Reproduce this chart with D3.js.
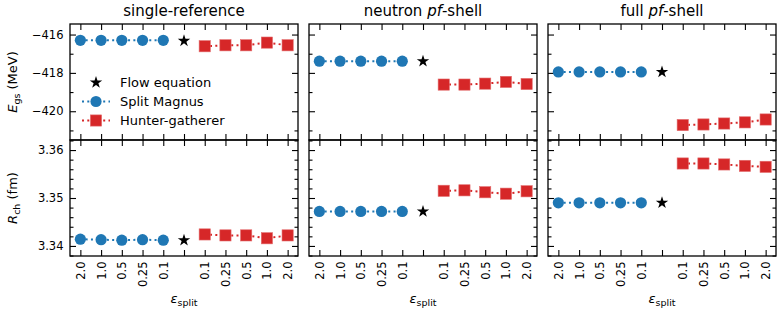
<!DOCTYPE html>
<html>
<head>
<meta charset="utf-8">
<script src="https://cdn.jsdelivr.net/npm/d3@7"></script>
<style>
  body { margin: 0; background: #fff; }
  text { font-family: 'DejaVu Sans', sans-serif; fill: #000; }
</style>
</head>
<body>
<svg id="chart" width="780" height="312"></svg>
<script>
// x categories: split Magnus eps (descending), flow equation slot, hunter-gatherer eps (ascending)
const xLabels = ['2.0', '1.0', '0.5', '0.25', '0.1', '', '0.1', '0.25', '0.5', '1.0', '2.0'];
const magnusIdx = [0, 1, 2, 3, 4];
const flowIdx = 5;
const hunterIdx = [6, 7, 8, 9, 10];
const panelTitles = ['single-reference', 'neutron |pf|-shell', 'full |pf|-shell'];

// ground-state energy (MeV)
const energyMagnus = [
  [-416.30, -416.30, -416.30, -416.30, -416.30],
  [-417.39, -417.39, -417.39, -417.39, -417.39],
  [-417.95, -417.95, -417.95, -417.95, -417.95],
];
const energyFlow = [-416.33, -417.39, -417.95];
const energyHunter = [
  [-416.61, -416.56, -416.56, -416.42, -416.56],
  [-418.61, -418.61, -418.56, -418.47, -418.58],
  [-420.72, -420.69, -420.64, -420.58, -420.43],
];

// charge radius (fm)
const radiusMagnus = [
  [3.3414, 3.3413, 3.3412, 3.3413, 3.3412],
  [3.3472, 3.3472, 3.3472, 3.3472, 3.3472],
  [3.3490, 3.3490, 3.3490, 3.3490, 3.3490],
];
const radiusFlow = [3.3412, 3.3472, 3.3490];
const radiusHunter = [
  [3.3424, 3.3422, 3.3422, 3.3416, 3.3422],
  [3.3515, 3.3516, 3.3512, 3.3509, 3.3514],
  [3.3572, 3.3572, 3.3570, 3.3567, 3.3565],
];

const energyTicks = [-420, -418, -416];
const energyMinor = [-421, -419, -417];
const radiusTicks = [3.34, 3.35, 3.36];
const radiusMinor = [3.338, 3.342, 3.344, 3.346, 3.348, 3.352, 3.354, 3.356, 3.358, 3.362];

const blue = '#1f77b4';
const red = '#d62728';

const svg = d3.select('#chart');
const panelW = 228;
const colX = [70, 309, 548];
const rowY = [24, 140, 256];

const yE = d3.scaleLinear().domain([-421.5, -415.45]).range([rowY[1], rowY[0]]);
const yR = d3.scaleLinear().domain([3.3379, 3.3621]).range([rowY[2], rowY[1]]);

const rows = [
  { y: yE, magnus: energyMagnus, flow: energyFlow, hunter: energyHunter,
    ticks: energyTicks, minor: energyMinor, fmt: d3.format('d'), top: rowY[0], bottom: rowY[1] },
  { y: yR, magnus: radiusMagnus, flow: radiusFlow, hunter: radiusHunter,
    ticks: radiusTicks, minor: radiusMinor, fmt: d3.format('.2f'), top: rowY[1], bottom: rowY[2] },
];

const star = d3.symbol().type(d3.symbolStar).size(48);
const dotted = (g, pts, color) => g.append('path')
    .datum(pts)
    .attr('d', d3.line().x((d) => d[0]).y((d) => d[1]))
    .attr('fill', 'none')
    .attr('stroke', color)
    .attr('stroke-width', 2)
    .attr('stroke-dasharray', '2,3.3');

function stripDomain(g) { g.select('.domain').remove(); }

colX.forEach((x0, c) => {
  const x = d3.scaleLinear().domain([-0.5, 10.5]).range([x0, x0 + panelW]);
  const xTicks = d3.range(xLabels.length);

  rows.forEach((row, r) => {
    const g = svg.append('g');
    const y = row.y;

    // ticks on all four sides, pointing in
    g.append('g').attr('transform', `translate(${x0},0)`)
        .call(d3.axisLeft(y).tickValues(row.ticks).tickSize(-6).tickPadding(6.5)
          .tickFormat(c === 0 ? row.fmt : ''))
        .call(stripDomain);
    g.append('g').attr('transform', `translate(${x0},0)`)
        .call(d3.axisLeft(y).tickValues(row.minor).tickSize(-3.5).tickFormat(''))
        .call(stripDomain);
    g.append('g').attr('transform', `translate(${x0 + panelW},0)`)
        .call(d3.axisRight(y).tickValues(row.ticks).tickSize(-6).tickFormat(''))
        .call(stripDomain);
    g.append('g').attr('transform', `translate(${x0 + panelW},0)`)
        .call(d3.axisRight(y).tickValues(row.minor).tickSize(-3.5).tickFormat(''))
        .call(stripDomain);
    g.append('g').attr('transform', `translate(0,${row.top})`)
        .call(d3.axisTop(x).tickValues(xTicks).tickSize(-6).tickFormat(''))
        .call(stripDomain);
    const bx = g.append('g').attr('transform', `translate(0,${row.bottom})`)
        .call(d3.axisBottom(x).tickValues(xTicks).tickSize(-6)
          .tickFormat((i) => (r === 1 ? xLabels[i] : '')))
        .call(stripDomain);
    bx.selectAll('text')
        .attr('transform', 'rotate(-90)')
        .attr('text-anchor', 'end')
        .attr('x', -5.5)
        .attr('y', 0)
        .attr('dy', '0.35em');

    g.selectAll('.tick line').attr('stroke', '#000').attr('stroke-width', 1.1);
    g.selectAll('.tick text').style('font-size', '11.5px').style('font-family', "'DejaVu Sans', sans-serif");

    g.append('rect')
        .attr('x', x0).attr('y', row.top)
        .attr('width', panelW).attr('height', row.bottom - row.top)
        .attr('fill', 'none').attr('stroke', '#000').attr('stroke-width', 1.3);

    const mPts = magnusIdx.map((i, k) => [x(i), y(row.magnus[c][k])]);
    const hPts = hunterIdx.map((i, k) => [x(i), y(row.hunter[c][k])]);

    dotted(g, mPts, blue);
    dotted(g, hPts, red);

    g.selectAll('.magnus').data(mPts).join('circle')
        .attr('cx', (d) => d[0]).attr('cy', (d) => d[1]).attr('r', 5.6)
        .attr('fill', blue);
    g.selectAll('.hunter').data(hPts).join('rect')
        .attr('x', (d) => d[0] - 5.6).attr('y', (d) => d[1] - 5.6)
        .attr('width', 11.2).attr('height', 11.2)
        .attr('fill', red).attr('stroke', '#e36a6b').attr('stroke-width', 0.6);
    g.append('path')
        .attr('d', star)
        .attr('transform', `translate(${x(flowIdx)},${y(row.flow[c])})`)
        .attr('fill', '#000');
  });

  // panel title, italic parts marked with |..|
  const title = svg.append('text')
      .attr('x', x0 + panelW / 2).attr('y', 16)
      .attr('text-anchor', 'middle')
      .style('font-size', '15px');
  panelTitles[c].split('|').forEach((part, k) => {
    title.append('tspan').text(part).style('font-style', k % 2 ? 'italic' : 'normal');
  });

  const xl = svg.append('text')
      .attr('x', x0 + panelW / 2).attr('y', 303)
      .attr('text-anchor', 'middle')
      .style('font-size', '13px');
  xl.append('tspan').text('\u03b5').style('font-style', 'italic');
  xl.append('tspan').text('split').attr('dy', 2.5).style('font-size', '9.5px');
});

// y labels
function yLabel(cy, sym, sub, unit) {
  const t = svg.append('text')
      .attr('transform', `translate(17,${cy}) rotate(-90)`)
      .attr('text-anchor', 'middle')
      .style('font-size', '13px');
  t.append('tspan').text(sym).style('font-style', 'italic');
  t.append('tspan').text(sub).attr('dy', 2.5).style('font-size', '9.5px');
  t.append('tspan').text(` (${unit})`).attr('dy', -2.5);
}
yLabel((rowY[0] + rowY[1]) / 2, 'E', 'gs', 'MeV');
yLabel((rowY[1] + rowY[2]) / 2, 'R', 'ch', 'fm');

// legend
const legend = [
  { name: 'Flow equation', kind: 'star', color: '#000' },
  { name: 'Split Magnus', kind: 'circle', color: blue },
  { name: 'Hunter-gatherer', kind: 'square', color: red },
];
legend.forEach((d, i) => {
  const ly = 82.5 + i * 19;
  const g = svg.append('g');
  if (d.kind !== 'star') dotted(g, [[82, ly], [110, ly]], d.color);
  if (d.kind === 'star') {
    g.append('path').attr('d', star).attr('transform', `translate(96,${ly})`).attr('fill', '#000');
  } else if (d.kind === 'circle') {
    g.append('circle').attr('cx', 96).attr('cy', ly).attr('r', 5.6).attr('fill', d.color);
  } else {
    g.append('rect').attr('x', 96 - 5.6).attr('y', ly - 5.6).attr('width', 11.2).attr('height', 11.2)
        .attr('fill', d.color).attr('stroke', '#e36a6b').attr('stroke-width', 0.6);
  }
  g.append('text').attr('x', 120).attr('y', ly).attr('dy', '0.35em')
      .style('font-size', '13px').text(d.name);
});
</script>
</body>
</html>
